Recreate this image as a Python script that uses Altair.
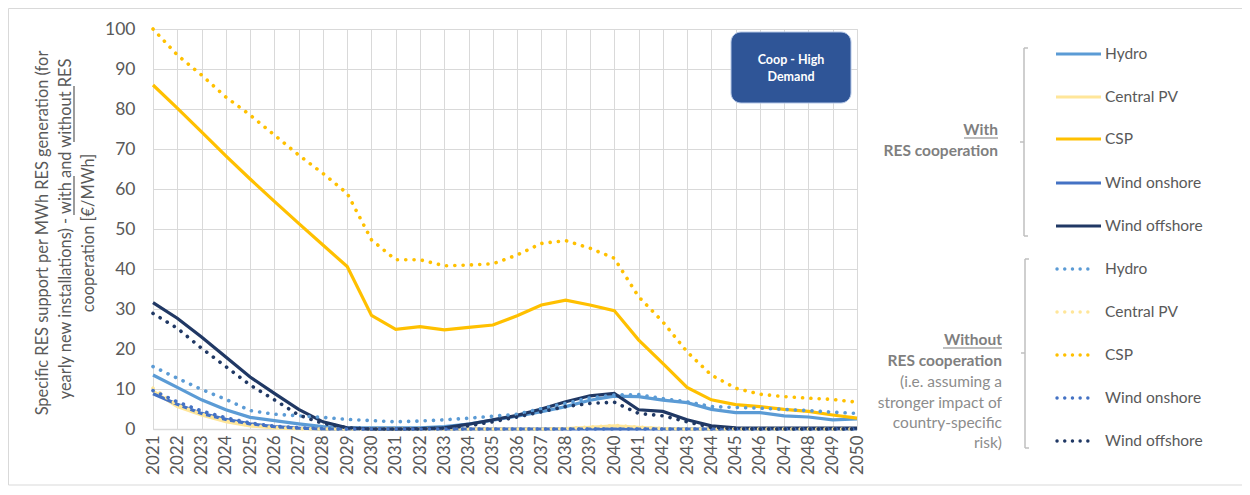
import altair as alt
import pandas as pd

years = list(range(2021, 2051))
techs = ["Hydro", "Central PV", "CSP", "Wind onshore", "Wind offshore"]
colors = ["#5B9BD5", "#FFE699", "#FFC000", "#4472C4", "#203864"]

# With RES cooperation
hydro_with = [13.5, 10.4, 7.3, 4.8, 2.9, 2.1, 1.3, 0.6, 0.3, 0.3, 0.3, 0.3, 0.6, 1.2, 2.2, 3.2,
              4.3, 5.6, 7.2, 8.2, 8.1, 7.2, 6.6, 4.9, 4.1, 4.1, 3.3, 3.0, 2.3, 2.5]
pv_with = [9.5, 5.6, 3.5, 1.8, 0.8, 0.3, 0.1, 0, 0, 0, 0, 0, 0, 0, 0, 0,
           0, 0.1, 0.4, 0.8, 0.4, 0.1, 0, 0, 0, 0, 0, 0, 0, 0]
csp_with = [86, 80.2, 74.3, 68.3, 62.5, 56.9, 51.4, 46, 40.6, 28.4, 24.9, 25.6, 24.8, 25.4, 26, 28.3,
            31, 32.2, 31, 29.6, 22.3, 16.4, 10.4, 7.3, 6.1, 5.6, 4.9, 4.4, 3.5, 2.7]
onshore_with = [8.8, 6.2, 3.9, 2.4, 1.3, 0.6, 0.2, 0, 0, 0, 0, 0, 0, 0, 0, 0,
                0, 0, 0, 0, 0, 0, 0, 0, 0, 0, 0, 0, 0, 0]
offshore_with = [31.6, 27.7, 23, 18, 13, 8.9, 4.9, 1.8, 0.3, 0, 0, 0.1, 0.3, 1.2, 2.3, 3.4,
                 5, 6.8, 8.3, 8.9, 4.8, 4.4, 2.3, 0.8, 0.3, 0.2, 0.2, 0.2, 0.2, 0.2]

# Without RES cooperation
hydro_without = [15.6, 12.7, 9.9, 7.4, 4.6, 3.7, 3.3, 2.9, 2.4, 2.1, 1.8, 2.0, 2.3, 2.7, 3.2, 3.7,
                 5.1, 6.4, 7.8, 8.5, 8.6, 7.6, 6.8, 5.6, 5.4, 5.2, 4.9, 4.6, 4.2, 3.9]
pv_without = [10.2, 6.0, 3.7, 2.0, 0.9, 0.4, 0.1, 0, 0, 0, 0, 0, 0, 0, 0, 0,
              0, 0.1, 0.5, 0.9, 0.5, 0.1, 0, 0, 0, 0, 0, 0, 0, 0]
csp_without = [100, 93.5, 88.5, 83, 78.5, 73.5, 68.5, 63.9, 58.9, 47.3, 42.3, 42.3, 40.8, 41, 41.3, 43.5,
               46.4, 47.1, 45.2, 42.7, 33.1, 26.8, 19.3, 13.5, 10.2, 8.7, 8.1, 7.7, 7.4, 6.7]
onshore_without = [9.6, 6.8, 4.5, 2.8, 1.5, 0.7, 0.3, 0.1, 0, 0, 0, 0, 0, 0, 0, 0,
                   0, 0, 0, 0, 0, 0, 0, 0, 0, 0, 0, 0, 0, 0]
offshore_without = [28.9, 25.2, 20.2, 15.6, 11, 7.3, 3.5, 1.4, 0.3, 0, 0, 0, 0.2, 0.8, 1.8, 3,
                    4.3, 5.6, 6.4, 6.7, 3.9, 3.3, 1.8, 0.4, 0.1, 0, 0, 0, 0, 0]

with_series = [hydro_with, pv_with, csp_with, onshore_with, offshore_with]
without_series = [hydro_without, pv_without, csp_without, onshore_without, offshore_without]

rows = []
for grp, series in (("with", with_series), ("without", without_series)):
    for t, vals in zip(techs, series):
        for yr, v in zip(years, vals):
            rows.append({"year": yr, "value": v, "series": t, "group": grp})
df = pd.DataFrame(rows)

FONT = "Lato"
GRAY = "#595959"
GRID = "#D9D9D9"
W, H = 704, 400
one = alt.Data(values=[{}])

x_enc = alt.X("year:O", scale=alt.Scale(type="point", padding=0),
              axis=alt.Axis(title=None, labelAngle=270, labelFontSize=17, labelColor=GRAY,
                            labelFont=FONT, labelPadding=6, ticks=False, grid=True,
                            gridColor=GRID, domainColor=GRID, domainWidth=1.5))
y_enc = alt.Y("value:Q", scale=alt.Scale(domain=[0, 100]),
              axis=alt.Axis(title=None, values=list(range(0, 101, 10)), labelFontSize=17.5,
                            labelColor=GRAY, labelFont=FONT, labelPadding=18, ticks=False,
                            domain=False, gridColor=GRID))

layers = []
for grp in ("with", "without"):
    for t, c in zip(techs, colors):
        base = alt.Chart(df).transform_filter(
            f"datum.series == '{t}' && datum.group == '{grp}'")
        if grp == "with":
            m = base.mark_line(color=c, strokeWidth=3.2)
        else:
            m = base.mark_line(color=c, strokeWidth=3.6, strokeDash=[0.1, 8.2], strokeCap="round")
        layers.append(m.encode(x=x_enc, y=y_enc))

def txt(s, x, y, size=15.5, color=GRAY, bold=False, align="left", angle=0):
    kw = dict(text=s, font=FONT, fontSize=size, color=color, align=align, baseline="middle")
    if bold:
        kw["fontWeight"] = "bold"
    if angle:
        kw["angle"] = angle
    return alt.Chart(one).mark_text(**kw).encode(x=alt.value(x), y=alt.value(y))

def rule(x1, y1, x2, y2, color="#BFBFBF", w=1.5, dash=None):
    kw = dict(color=color, strokeWidth=w)
    if dash:
        kw["strokeDash"] = dash
        kw["strokeCap"] = "round"
    return alt.Chart(one).mark_rule(**kw).encode(
        x=alt.value(x1), y=alt.value(y1), x2=alt.value(x2), y2=alt.value(y2))

# outer border
layers.append(alt.Chart(one).mark_rect(fillOpacity=0, stroke="#D9D9D9", strokeWidth=1).encode(
    x=alt.value(-144.5), y=alt.value(-20.5), x2=alt.value(1100), y2=alt.value(456)))

# badge
layers.append(alt.Chart(one).mark_rect(fill="#2F5597", stroke="#B4C7E7", strokeWidth=1,
                                       cornerRadius=10).encode(
    x=alt.value(578), y=alt.value(3), x2=alt.value(698), y2=alt.value(74)))
layers.append(txt("Coop - High", 638, 31, size=12.5, color="white", bold=True, align="center"))
layers.append(txt("Demand", 638, 48, size=12.5, color="white", bold=True, align="center"))

# y-axis title (rotated, three lines, with underlined words)
TS = 16.4
layers.append(txt("Specific RES support per MWh RES generation (for", -110, 204, size=TS,
                  align="center", angle=270))
layers.append(txt("yearly new installations) - with and without RES", -87, 200, size=TS,
                  align="center", angle=270))
layers.append(txt("cooperation [€/MWh]", -64, 204, size=TS, align="center", angle=270))
layers.append(rule(-79, 186, -79, 147, color=GRAY, w=1.2))
layers.append(rule(-79, 113, -79, 57, color=GRAY, w=1.2))

# custom legend
LX1, LX2, LT = 903, 948, 952
ys_with = [25, 68, 110, 154, 197]
ys_without = [240, 283, 326, 369, 412]
for t, c, yy in zip(techs, colors, ys_with):
    layers.append(rule(LX1, yy, LX2, yy, color=c, w=3.2))
    layers.append(txt(t, LT, yy))
for t, c, yy in zip(techs, colors, ys_without):
    layers.append(rule(LX1 + 1, yy, LX2 - 6, yy, color=c, w=3.4, dash=[0.1, 7.6]))
    layers.append(txt(t, LT, yy))

LBL = "#7F7F7F"
layers.append(txt("With", 845, 101, bold=True, color=LBL, align="right"))
layers.append(rule(811, 109, 845, 109, color=LBL, w=1.2))
layers.append(txt("RES cooperation", 845, 122, bold=True, color=LBL, align="right"))
layers.append(txt("Without", 849, 311, bold=True, color=LBL, align="right"))
layers.append(rule(790, 319, 849, 319, color=LBL, w=1.2))
layers.append(txt("RES cooperation", 849, 332, bold=True, color=LBL, align="right"))
for s, yy in zip(["(i.e. assuming a", "stronger impact of", "country-specific", "risk)"],
                 [353, 374, 394, 414]):
    layers.append(txt(s, 849, yy, color="#8C8C8C", align="right"))

# brackets
for bx, y1, y2, ym in ((871, 19, 207, 113), (872, 230, 419, 324)):
    layers.append(rule(bx, y1, bx, y2))
    layers.append(rule(bx, y1, bx + 4, y1))
    layers.append(rule(bx, y2, bx + 4, y2))
    layers.append(rule(bx - 4, ym, bx, ym))

chart = alt.layer(*layers).properties(
    width=W, height=H,
    autosize=alt.AutoSizeParams(type="none"),
    padding={"left": 145, "top": 21, "right": 385, "bottom": 66},
).configure_view(stroke=None).configure(background="white")

chart.save("out.html", embed_options={"renderer": "svg", "actions": False})
